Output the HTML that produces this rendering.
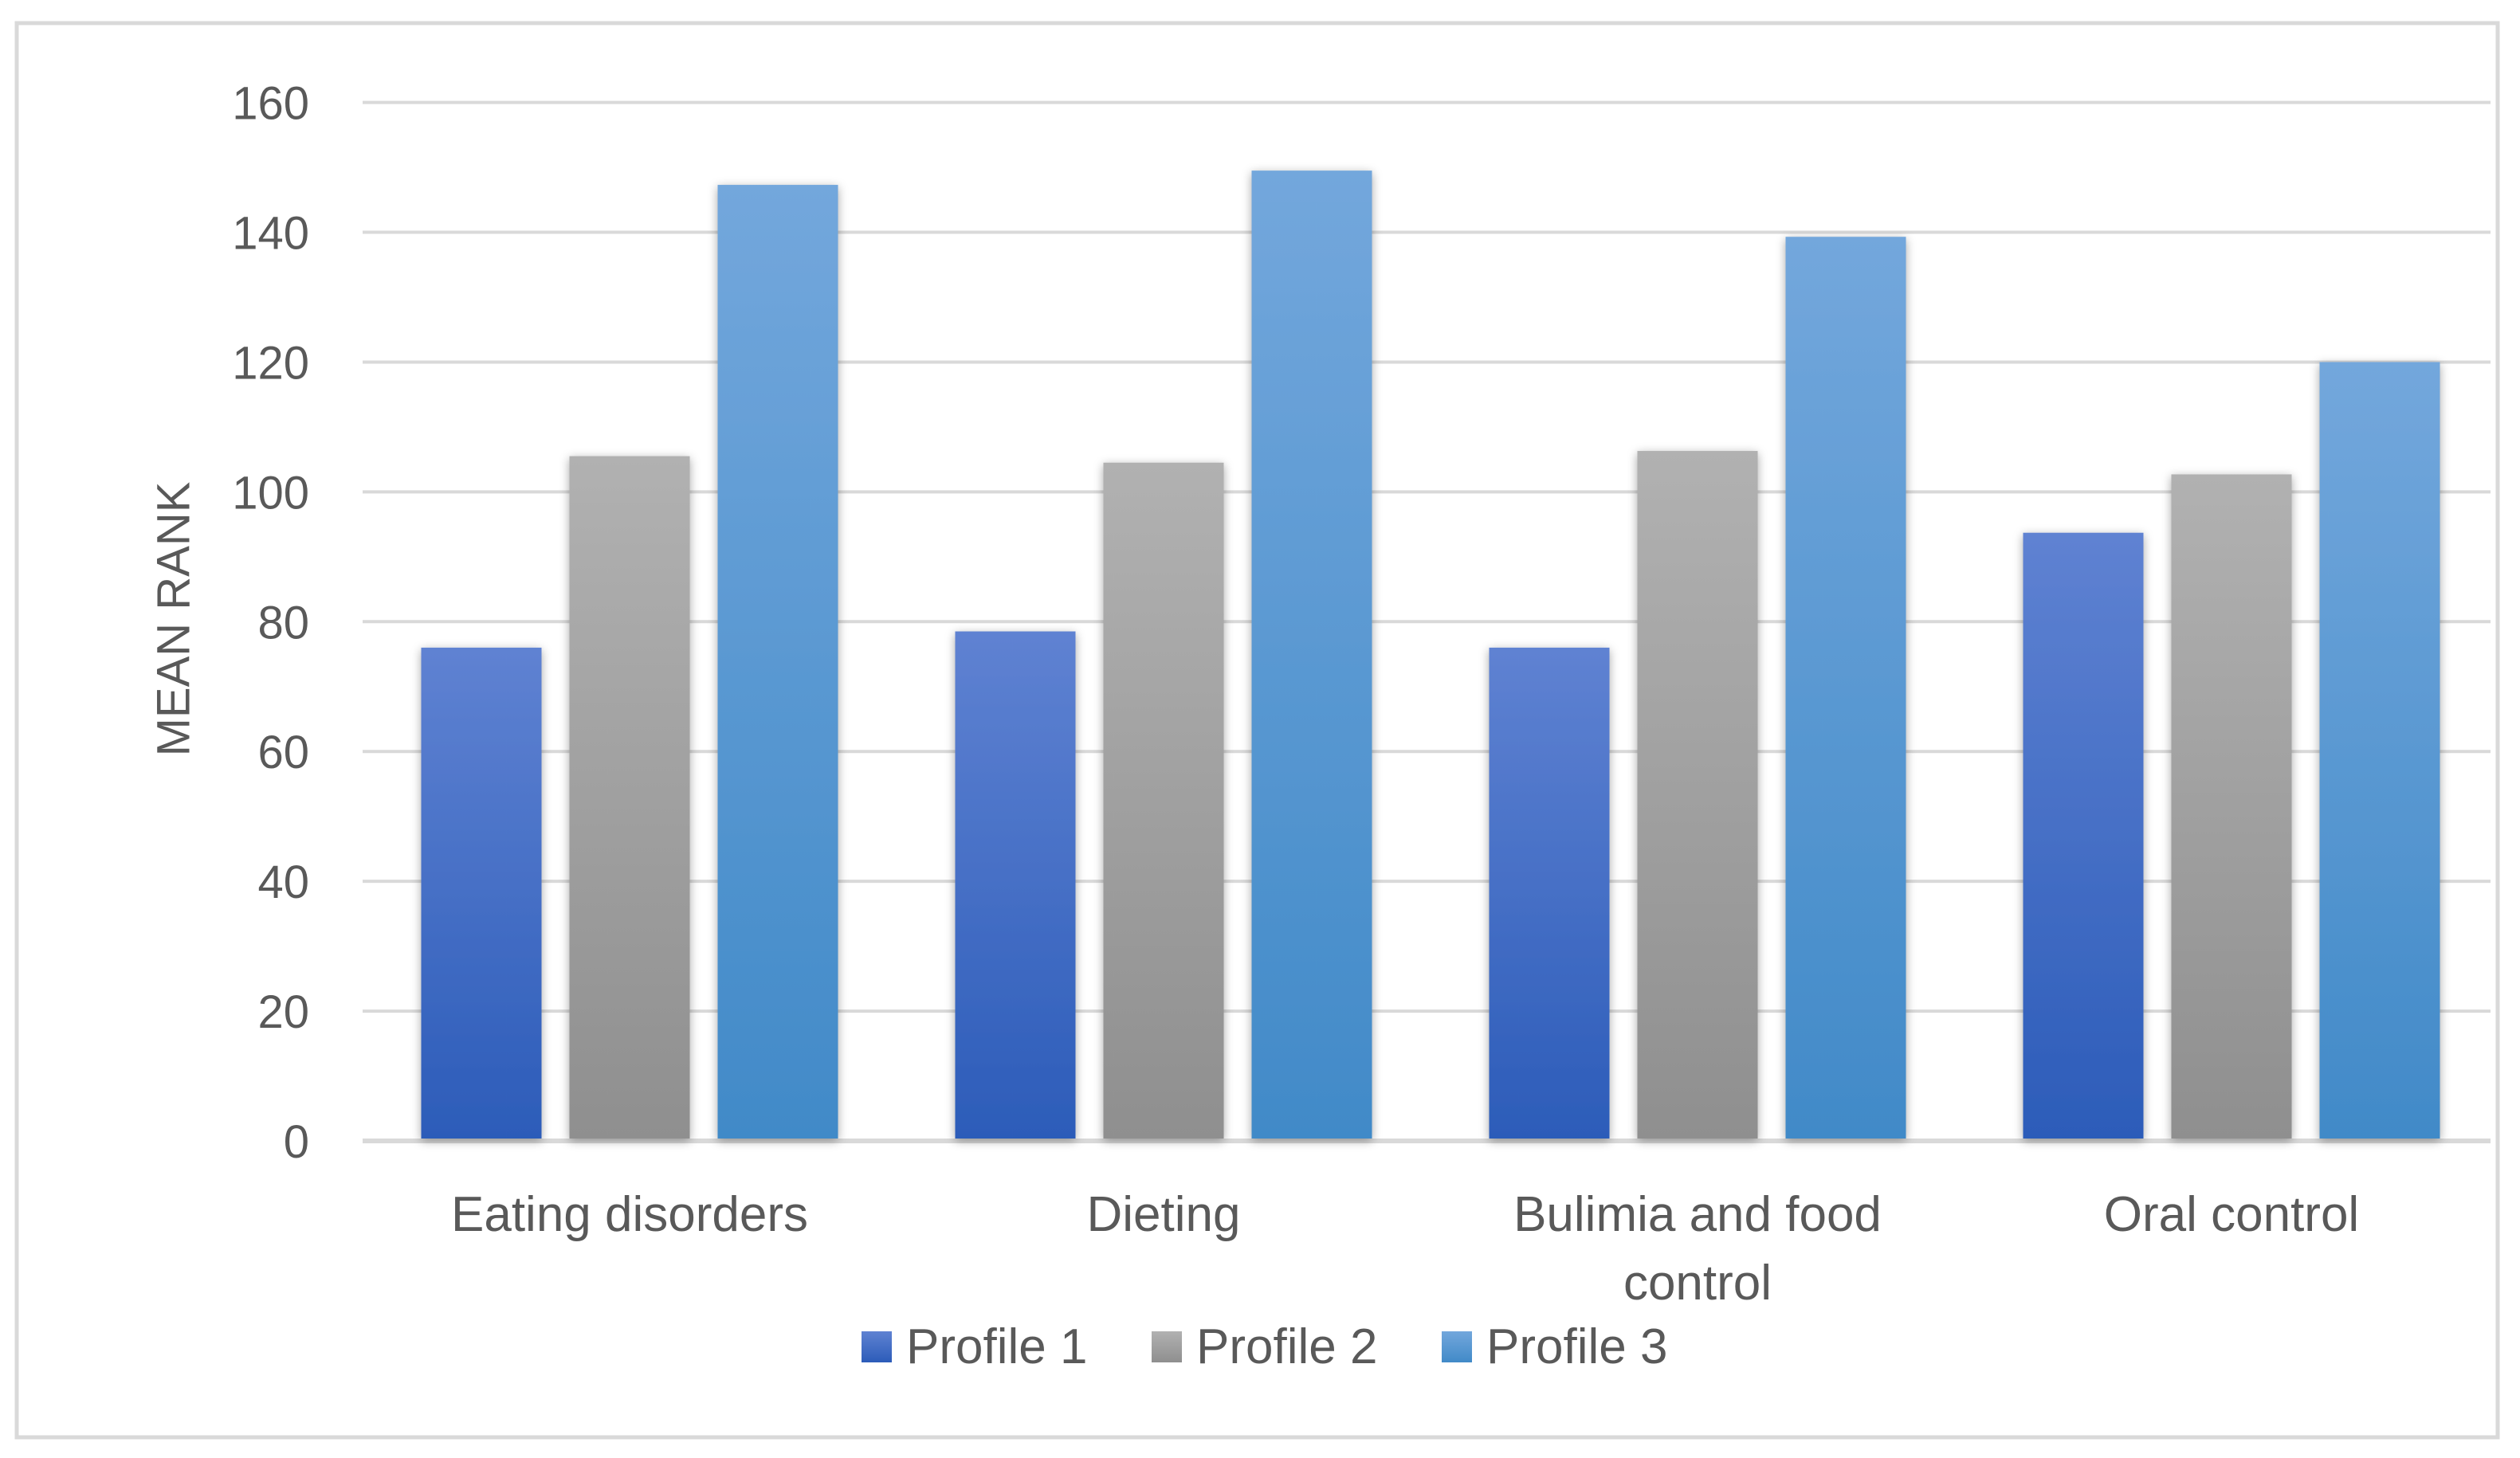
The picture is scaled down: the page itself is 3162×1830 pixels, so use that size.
<!DOCTYPE html>
<html><head><meta charset="utf-8"><style>
html,body{margin:0;padding:0;background:#fff;}
svg{display:block;font-family:"Liberation Sans",sans-serif;}
</style></head><body>
<svg id="chart" width="3162" height="1830" viewBox="0 0 3162 1830" xmlns="http://www.w3.org/2000/svg">
<defs>
<linearGradient id="g1" x1="0" y1="0" x2="0" y2="1"><stop offset="0" stop-color="#5f82d2"/><stop offset="1" stop-color="#2c5cb9"/></linearGradient>
<linearGradient id="g2" x1="0" y1="0" x2="0" y2="1"><stop offset="0" stop-color="#b1b1b1"/><stop offset="1" stop-color="#8f8f8f"/></linearGradient>
<linearGradient id="g3" x1="0" y1="0" x2="0" y2="1"><stop offset="0" stop-color="#73a7dc"/><stop offset="1" stop-color="#418ac8"/></linearGradient>
<filter id="sh" x="-20%" y="-5%" width="140%" height="110%"><feDropShadow dx="0" dy="3" stdDeviation="6" flood-color="#000" flood-opacity="0.35"/></filter>
</defs>
<rect x="21" y="29" width="3113" height="1775" fill="#fff" stroke="#d9d9d9" stroke-width="5"/>
<g id="grid"></g>
<g id="bars"></g>
<g id="labels"></g>
<text x="222" y="777" font-size="58" fill="#595959" text-anchor="middle" transform="rotate(-90 222 777)" dominant-baseline="middle">MEAN RANK</text>
<g id="legend"></g>
</svg>
<script>
const categories = [["Eating disorders"], ["Dieting"], ["Bulimia and food", "control"], ["Oral control"]];
const seriesNames = ["Profile 1", "Profile 2", "Profile 3"];
const profile1 = [76, 78.5, 76, 93.7];
const profile2 = [105.5, 104.5, 106.3, 102.7];
const profile3 = [147.3, 149.5, 139.3, 120];
const yTicks = [0, 20, 40, 60, 80, 100, 120, 140, 160];

const NS = "http://www.w3.org/2000/svg";
const plotL = 455, plotR = 3135, y0 = 1432, yTop = 128.6, yMax = 160;
const y = v => y0 - (y0 - yTop) * v / yMax;
const catW = (plotR - plotL) / categories.length;
const barW = 151, barGap = 35;
const fills = ["url(#g1)", "url(#g2)", "url(#g3)"];
const series = [profile1, profile2, profile3];
function mk(tag, attrs, parent) {
  const e = document.createElementNS(NS, tag);
  for (const k in attrs) e.setAttribute(k, attrs[k]);
  parent.appendChild(e);
  return e;
}
const grid = document.getElementById("grid");
yTicks.forEach(t => {
  const gl = mk("line", {x1: plotL, x2: plotR - 10, y1: y(t), y2: y(t), stroke: "#d9d9d9", "stroke-width": t === 0 ? 6 : 4}, grid);
  
  
  const tl = mk("text", {x: 388, y: y(t) + 21, "font-size": 58, fill: "#595959", "text-anchor": "end"}, grid);
  tl.textContent = t;
  
  
});
const bars = document.getElementById("bars");
const labels = document.getElementById("labels");
categories.forEach((c, i) => {
  const cx = plotL + catW * (i + 0.5);
  const groupW = 3 * barW + 2 * barGap;
  series.forEach((s, j) => {
    const x = cx - groupW / 2 + j * (barW + barGap);
    const r = mk("rect", {x: x, y: y(s[i]), width: barW, height: y0 - 3 - y(s[i]), fill: fills[j], filter: "url(#sh)"}, bars);
    
    
  });
  c.forEach((line, k) => {
    const t = mk("text", {x: cx, y: 1545 + k * 86, "font-size": 62, fill: "#595959", "text-anchor": "middle"}, labels);
    t.textContent = line;
    
    
  });
});
const legend = document.getElementById("legend");
const legX = [1081, 1445, 1809];
seriesNames.forEach((n, j) => {
  const g = mk("g", {}, legend);
  
  
  mk("rect", {x: legX[j], y: 1671, width: 38, height: 39, fill: fills[j]}, g);
  const t = mk("text", {x: legX[j] + 56, y: 1711, "font-size": 62, fill: "#595959"}, g);
  t.textContent = n;
});
</script>
</body></html>
